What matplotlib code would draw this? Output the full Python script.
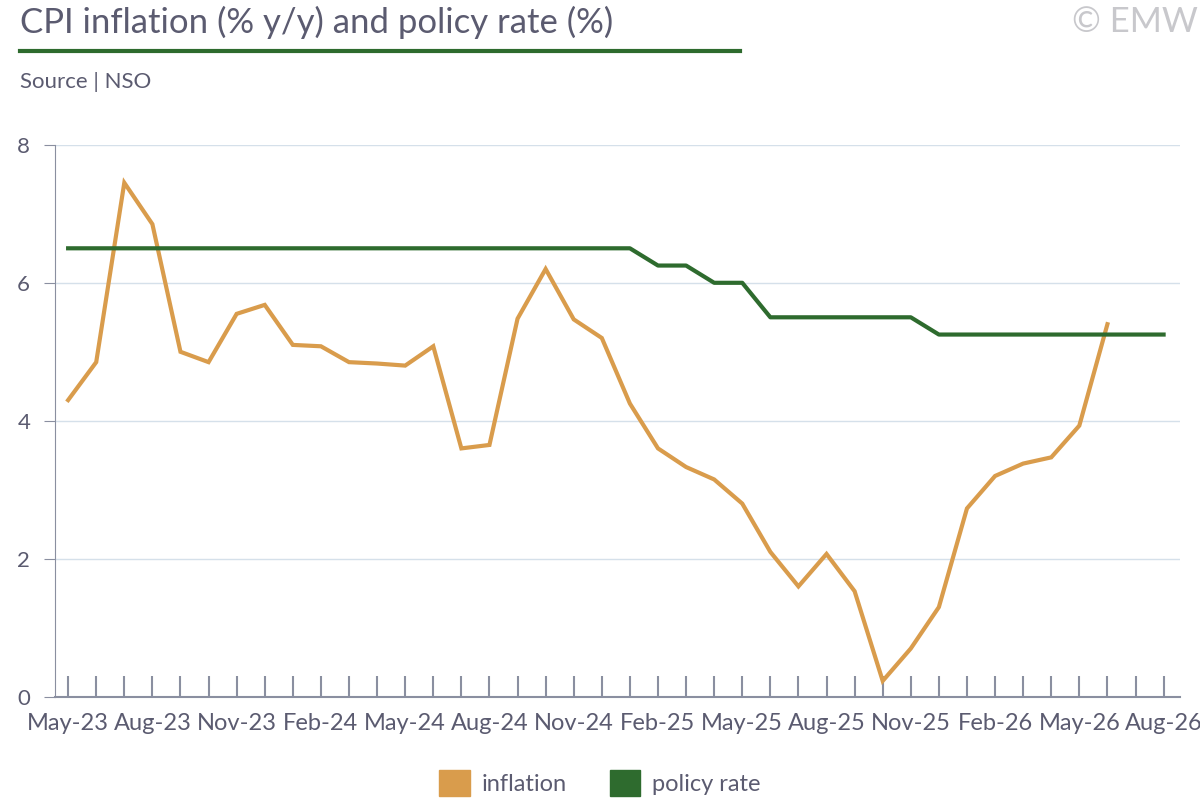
import matplotlib.pyplot as plt
import matplotlib.patches as mpatches
import numpy as np

plt.rcParams['font.family'] = ['Lato', 'DejaVu Sans']

months = ['May', 'Jun', 'Jul', 'Aug', 'Sep', 'Oct', 'Nov', 'Dec', 'Jan', 'Feb', 'Mar', 'Apr']
labels = []
y, m = 23, 0
for i in range(40):
    labels.append('%s-%d' % (months[m], y))
    m += 1
    if months[m % 12] == 'Jan':
        y += 1
    m %= 12

inflation = [4.3, 4.85, 7.45, 6.85, 5.0, 4.85, 5.55, 5.68, 5.1, 5.08,
             4.85, 4.83, 4.8, 5.08, 3.6, 3.65, 5.48, 6.2, 5.47, 5.2,
             4.25, 3.6, 3.33, 3.15, 2.8, 2.1, 1.6, 2.07, 1.53, 0.23,
             0.7, 1.3, 2.73, 3.2, 3.38, 3.47, 3.93, 5.4]
policy = [6.5] * 21 + [6.25, 6.25, 6.0, 6.0] + [5.5] * 6 + [5.25] * 9

orange = '#d99c4c'
green = '#2e6b2e'
txt = '#5b5b70'

fig = plt.figure(figsize=(12, 8), dpi=100)
ax = fig.add_axes([0.046, 0.129, 0.937, 0.69])
ax.plot(range(len(inflation)), inflation, color=orange, lw=3, solid_joinstyle='miter')
ax.plot(range(len(policy)), policy, color=green, lw=3)
ax.set_ylim(0, 8)
ax.set_xlim(-0.46, 39.57)
ax.set_yticks([0, 2, 4, 6, 8])
ax.grid(axis='y', color='#d5e0ea', lw=1)
ax.set_axisbelow(True)
for s in ['top', 'right']:
    ax.spines[s].set_visible(False)
ax.spines['left'].set_color('#8a8fa0')
ax.spines['bottom'].set_color('#8a8fa0')
ax.spines['bottom'].set_linewidth(1.5)
ax.set_xticks(range(40))
ax.set_xticklabels([l if i % 3 == 0 else '' for i, l in enumerate(labels)])
ax.tick_params(axis='x', direction='in', length=15, color='#8a8fa0', width=1.5,
               labelsize=17, labelcolor=txt, pad=12)
ax.tick_params(axis='y', length=8, color='#8a8fa0', labelsize=16, labelcolor=txt, pad=10)
for t in ax.get_xticklabels():
    t.set_clip_on(False)

fig.text(0.017, 0.972, 'CPI inflation (% y/y) and policy rate (%)', fontsize=25,
         color=txt, va='center')
fig.add_artist(plt.Line2D([0.017, 0.617], [0.936, 0.936], color=green, lw=3))
fig.text(0.017, 0.897, 'Source | NSO', fontsize=16, color=txt, va='center')
fig.text(0.998, 0.972, '© EMW', fontsize=25, color='#c8c8cc', va='center', ha='right')

handles = [mpatches.Patch(color=orange, label='inflation'),
           mpatches.Patch(color=green, label='policy rate')]
fig.legend(handles=handles, loc='center', bbox_to_anchor=(0.5, 0.021), ncol=2,
           frameon=False, fontsize=17, labelcolor=txt, handlelength=1.3,
           handleheight=1.3, handletextpad=0.5, columnspacing=1.8)

plt.savefig('out.png')
